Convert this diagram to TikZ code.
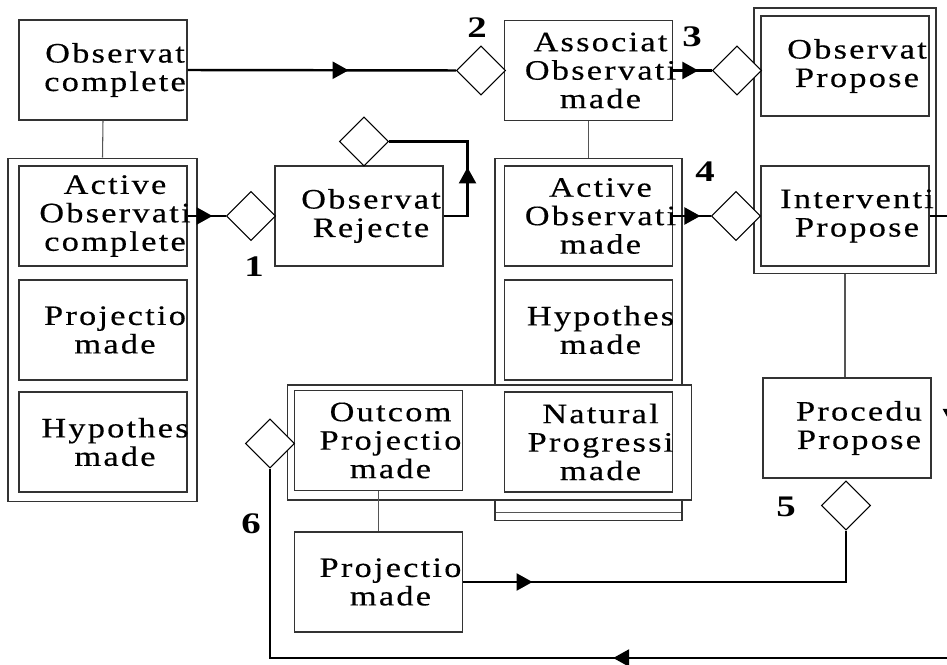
\documentclass[tikz,border=0pt]{standalone}
\usepackage{fontspec}
\usetikzlibrary{arrows.meta,shapes.geometric,decorations.markings}
\newfontfamily\boxfont[FakeStretch=1.22,LetterSpace=8,FakeBold=0.4]{Liberation Serif}
\newfontfamily\numfont[FakeStretch=1.3]{Liberation Serif}
\definecolor{fmInk}{HTML}{000000}
\definecolor{fmEdge}{HTML}{333333}
\definecolor{fmTie}{HTML}{555555}
\newcommand{\flowtip}{\arrow{Triangle[length=3.2mm,width=3.4mm]}}
\tikzset{
  edgebox/.style  ={draw=fmEdge,line width=0.6pt,fill=white,inner sep=0pt},
  statebox/.style ={edgebox,minimum width=3.36cm,minimum height=2cm},
  boxtxt/.style   ={font=\boxfont\fontsize{16}{16.2}\selectfont,align=center,inner sep=0pt},
  gate/.style     ={shape=diamond,draw=fmInk,line width=0.6pt,fill=white,
                    minimum width=0.98cm,minimum height=0.98cm,inner sep=0pt},
  tie/.style      ={fmTie,line width=0.6pt},
  flow/.style     ={fmInk,line width=1.4pt},
  midtip/.style   ={flow,postaction={decorate},
                    decoration={markings,mark=at position #1 with {\flowtip}}},
  stepnum/.style  ={font=\numfont\bfseries\fontsize{17}{17}\selectfont,inner sep=0pt},
}

\begin{document}
\begin{tikzpicture}[x=0.02cm,y=-0.02cm]
\clip (0,0) rectangle (947,665);
\newcommand{\statenode}[4]{\node[statebox] (#1) at (#2,#3) {};
  \node[boxtxt] (#1t) at ([xshift=0.24cm]#1.center) {#4};}

%% group frames
\node[edgebox,minimum width=3.78cm,minimum height=6.88cm] (grpL) at (102.5,330) {};
\node[edgebox,minimum width=3.74cm,minimum height=7.26cm] (grpM) at (588.5,339.5) {};
\node[edgebox,minimum width=3.64cm,minimum height=5.32cm] (grpR) at (845,141) {};
\draw[tie] ([shift={(2,-9)}]grpM.south west) -- ([shift={(-2,-9)}]grpM.south east);
\node[edgebox,minimum width=8.1cm,minimum height=2.3cm] (grpB) at (489.5,442.5) {};

%% states
\statenode{obsc}{103}{70}{Observat\\complete}
\statenode{actc}{103}{216}{Active\\Observati\\complete}
\statenode{projL}{103}{330}{Projectio\\made}
\statenode{hypL}{103}{442}{Hypothes\\made}
\statenode{rej}{359}{216}{Observat\\Rejecte}
\statenode{assoc}{588.5}{70.5}{Associat\\Observati\\made}
\statenode{actm}{588.5}{216}{Active\\Observati\\made}
\statenode{hypM}{588.5}{330}{Hypothes\\made}
\statenode{natp}{588.5}{442}{Natural\\Progressi\\made}
\statenode{obsp}{845}{66}{Observat\\Propose}
\statenode{interv}{845}{216}{Interventi\\Propose}
\statenode{outc}{378.5}{440.5}{Outcom\\Projectio\\made}
\statenode{proc}{847}{428}{Procedu\\Propose}
\statenode{proj2}{378.5}{582}{Projectio\\made}

%% hierarchy ties
\draw[tie] (obsc.south) -- (grpL.north);
\draw[tie] (assoc.south) -- (grpM.north);
\draw[tie] (grpR.south) -- (grpR.south |- proc.north);
\draw[tie] (outc.south) -- (proj2.north);

%% gates
\node[gate] (d1) at (251,216) {};
\node[gate] (d2) at (481,70.5) {};
\node[gate] (d3) at (737,70.5) {};
\node[gate] (d4) at (736,216) {};
\node[gate] (d5) at (846,505.5) {};
\node[gate] (d6) at (270,443.5) {};
\node[gate] (d7) at (364,141.5) {};

\foreach \k/\x/\y in {1/254/267, 2/477/28, 3/692/37, 4/705/172, 5/786/507, 6/251/524}
  \node[stepnum] (n\k) at (\x,\y) {\k};

%% flows
\draw[midtip=0.6] (obsc.east) -- (d2.west);
\draw[midtip=0.65] (actc.east) -- (d1.west);
\draw[midtip=0.41] (rej.east) -- ++(24,0) |- (d7.east);
\draw[midtip=0.65] (assoc.east) -- (d3.west);
\draw[midtip=0.72] (actm.east) -- (d4.west);
\draw[midtip=0.16] (proj2.east) -| (d5.south);
\draw[flow,postaction={decorate},
  decoration={markings,mark=at position 0.173 with {\flowtip},
              mark=at position 0.601 with {\flowtip}}]
  (interv.east) -- ++(22,0) -- ++(0,442) -| (d6.south);
\end{tikzpicture}
\end{document}
